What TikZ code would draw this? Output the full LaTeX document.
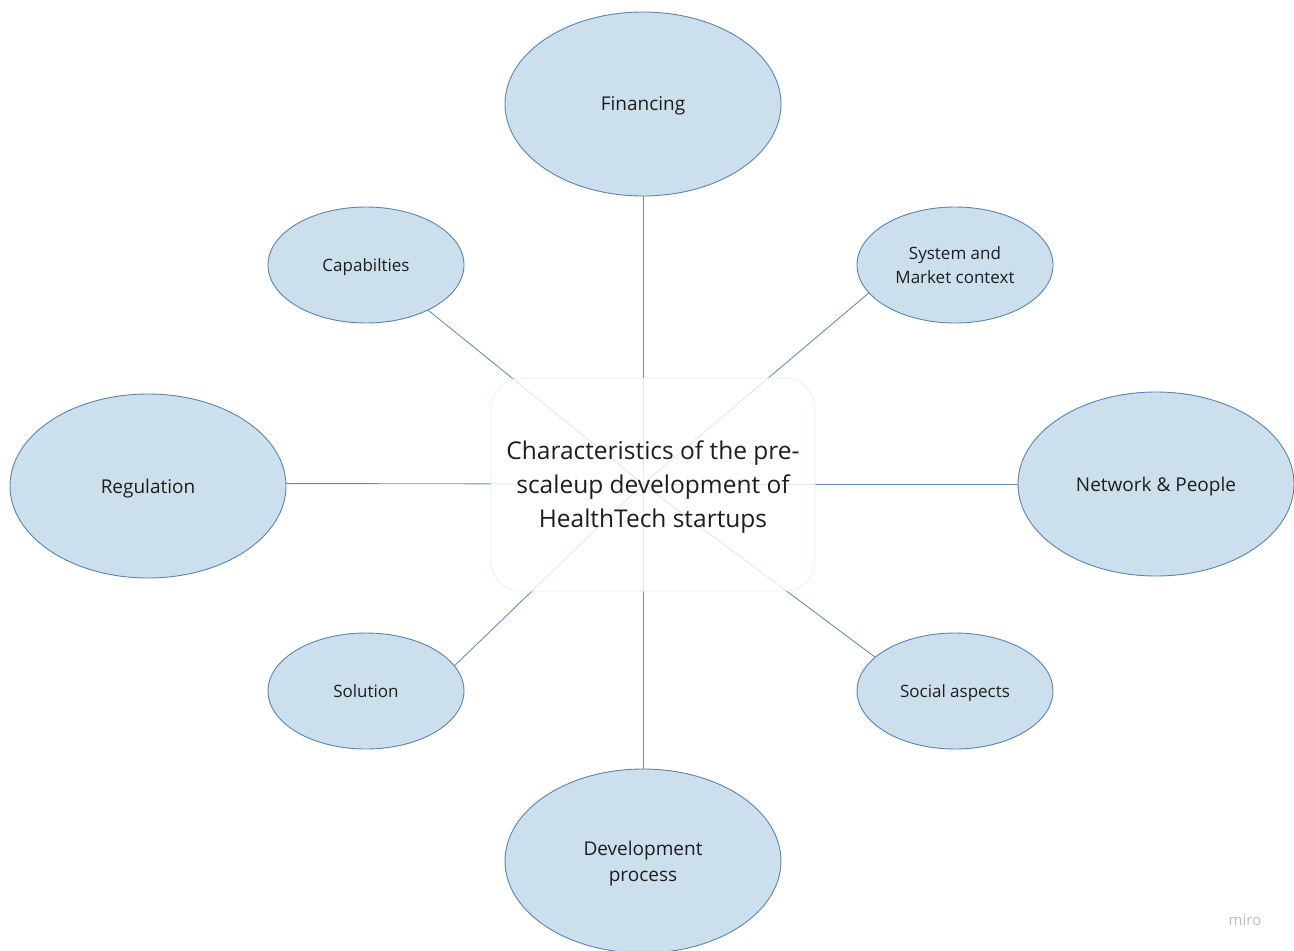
\documentclass[tikz,border=0pt]{standalone}
\usepackage{fontspec}
\setmainfont{Open Sans}
\usepackage{tikz}
\usetikzlibrary{shapes.geometric, positioning, backgrounds}

\definecolor{bubblefill}{HTML}{CCDFED}
\definecolor{bubbleline}{HTML}{5B84AE}
\definecolor{spokeline}{HTML}{6A8EB3}
\definecolor{textdark}{HTML}{1E1E1E}
\definecolor{boxline}{HTML}{E6ECF2}
\definecolor{mirogray}{HTML}{B9BAD2}

\begin{document}
\begin{tikzpicture}[x=1pt,y=-1pt,-,
                    thick,
                    big node/.style={ellipse,draw=bubbleline,fill=bubblefill,line width=0.9pt,
                      text=textdark,align=center,inner sep=0pt,text depth=0pt,
                      minimum width=276,minimum height=184,font=\fontsize{19}{26}\selectfont},
                    small node/.style={ellipse,draw=bubbleline,fill=bubblefill,line width=0.9pt,
                      text=textdark,align=center,inner sep=0pt,text depth=0pt,
                      minimum width=196,minimum height=116,font=\fontsize{17}{23.5}\selectfont},
                    spoke/.style={draw=spokeline,line width=0.9pt}]
 \useasboundingbox (0,0) rectangle (1294,951);

%Outer bubbles
 \node[big node] (Financing) at (643,104) {Financing};
 \node[big node] (Regulation) at (148,486) {Regulation};
 \node[big node] (Network) at (1156,484) {Network \& People};
 \node[big node] (Development) at (643,861) {Development\\process};

 \node[small node] (Capabilties) at (366,265) {Capabilties};
 \node[small node] (System) at (955,265) {System and\\Market context};
 \node[small node] (Solution) at (366,691) {Solution};
 \node[small node] (Social) at (955,691) {Social aspects};

%Spokes to the middle
 \coordinate (Hub) at (643,484);
 \foreach \n/\a in {Financing/south,Regulation/1,Network/west,Development/north,
                    Capabilties/324,System/198,Solution/16,Social/157}
    \draw[spoke] (Hub) -- (\n.\a);

%Middle box
 \node[rectangle,rounded corners=30,draw=boxline,line width=0.6pt,fill=white,fill opacity=0.8,
       text opacity=1,text=textdark,align=center,minimum width=324,minimum height=213,
       text depth=0pt,font=\fontsize{24.5}{34}\selectfont] (Characteristics) at (653,484.5)
       {Characteristics of the pre-\\scaleup development of\\HealthTech startups};

 \node[text=mirogray,font=\fontsize{15}{18}\selectfont] (Miro) at (1245,920) {miro};
\end{tikzpicture}
\end{document}
